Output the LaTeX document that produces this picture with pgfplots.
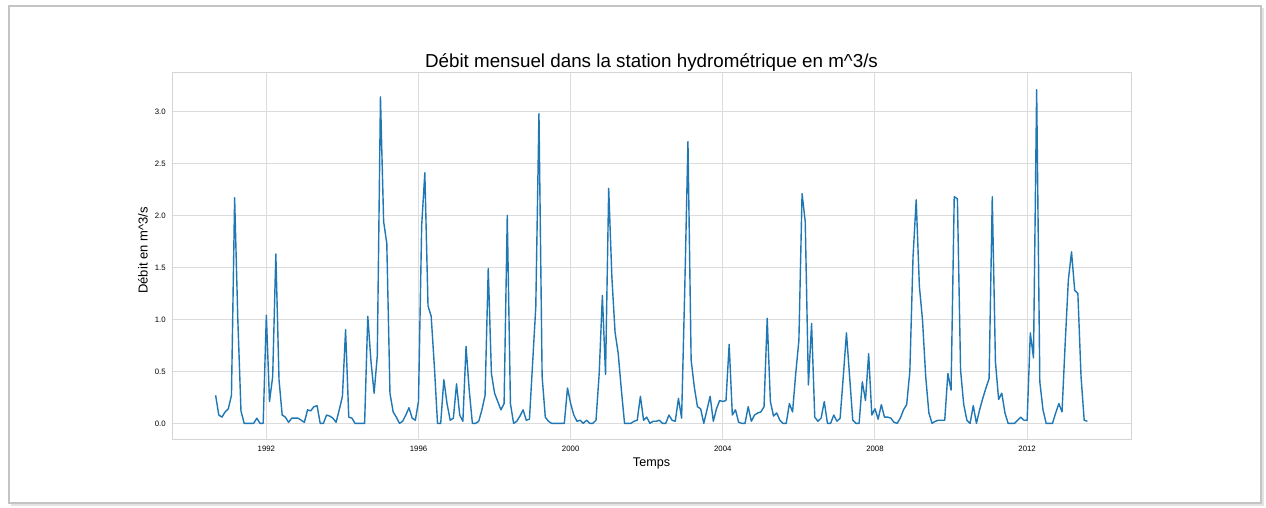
\documentclass[border=0pt]{standalone}
\usepackage{fontspec}
\setmainfont{Liberation Sans}
\usepackage{pgfplots}
\usepackage{pgfplotstable}
\pgfplotsset{compat=1.18}

\definecolor{flowblue}{HTML}{1F77B4}
\definecolor{gridgrey}{HTML}{DCDCDC}
\definecolor{spinegrey}{HTML}{D4D4D4}
\definecolor{framegrey}{HTML}{C4C4C4}

% Monthly discharge (m^3/s), September 1990 to August 2013
\pgfplotstableread{
flow
0.27
0.08
0.06
0.11
0.14
0.27
2.17
1.00
0.12
0.00
0.00
0.00
0.00
0.05
0.00
0.00
1.04
0.21
0.45
1.63
0.42
0.08
0.06
0.01
0.05
0.05
0.05
0.03
0.01
0.13
0.12
0.16
0.17
0.00
0.00
0.08
0.07
0.05
0.01
0.13
0.26
0.90
0.06
0.05
0.00
0.00
0.00
0.00
1.03
0.60
0.29
0.65
3.14
1.94
1.73
0.29
0.11
0.06
0.00
0.02
0.08
0.15
0.05
0.03
0.21
1.90
2.41
1.13
1.03
0.55
0.00
0.00
0.42
0.19
0.03
0.05
0.38
0.08
0.02
0.74
0.32
0.00
0.00
0.02
0.13
0.27
1.49
0.48
0.29
0.21
0.13
0.19
2.00
0.19
0.00
0.02
0.07
0.13
0.03
0.04
0.58
1.12
2.98
0.45
0.06
0.02
0.00
0.00
0.00
0.00
0.00
0.34
0.19
0.08
0.02
0.03
0.00
0.03
0.00
0.00
0.03
0.48
1.23
0.47
2.26
1.41
0.88
0.67
0.32
0.00
0.00
0.00
0.02
0.03
0.26
0.03
0.06
0.00
0.02
0.02
0.03
0.00
0.00
0.08
0.03
0.02
0.24
0.05
1.30
2.71
0.61
0.35
0.16
0.14
0.00
0.13
0.26
0.02
0.14
0.22
0.21
0.22
0.76
0.08
0.13
0.01
0.00
0.00
0.16
0.02
0.08
0.10
0.11
0.16
1.01
0.21
0.07
0.10
0.03
0.00
0.00
0.19
0.11
0.48
0.80
2.21
1.94
0.37
0.96
0.06
0.02
0.05
0.21
0.00
0.00
0.08
0.02
0.05
0.45
0.87
0.45
0.03
0.00
0.00
0.40
0.22
0.67
0.08
0.14
0.04
0.18
0.06
0.06
0.05
0.01
0.00
0.05
0.13
0.18
0.50
1.60
2.15
1.32
0.99
0.45
0.10
0.00
0.02
0.03
0.03
0.03
0.48
0.32
2.18
2.16
0.51
0.18
0.03
0.00
0.17
0.00
0.13
0.24
0.34
0.43
2.18
0.59
0.23
0.29
0.10
0.00
0.00
0.00
0.03
0.06
0.03
0.03
0.87
0.63
3.21
0.40
0.13
0.00
0.00
0.00
0.10
0.19
0.11
0.77
1.38
1.65
1.28
1.25
0.45
0.03
0.02
}\debit

\begin{document}
\begin{tikzpicture}
% page and framed panel
\path[use as bounding box, fill=white] (0,0) rectangle (633pt,254pt);
\fill[gray!22] (5.5pt,1.2pt) rectangle (632pt,250pt);
\filldraw[fill=white, draw=framegrey, line width=0.6pt] (4.5pt,2.5pt) rectangle (630.5pt,251pt);

\begin{axis}[
  at={(86pt,34pt)}, anchor=south west,
  width=479.5pt, height=183.5pt, scale only axis,
  xmin=1989.52, xmax=2014.73,
  ymin=-0.16, ymax=3.37,
  xtick={1992,1996,2000,2004,2008,2012},
  ytick={0,0.5,1,1.5,2,2.5,3},
  major tick length=0pt,
  grid=major,
  major grid style={draw=gridgrey, line width=0.5pt},
  axis line style={draw=spinegrey, line width=0.5pt},
  /pgf/number format/assume math mode=true,
  xticklabel style={font=\fontsize{3.9}{4.5}\selectfont, inner sep=0pt, anchor=north, yshift=-3pt,
    /pgf/number format/1000 sep={}},
  yticklabel style={font=\fontsize{3.9}{4.5}\selectfont, inner sep=0pt, anchor=east, xshift=-3pt,
    /pgf/number format/.cd, fixed, fixed zerofill, precision=1},
  title={Débit mensuel dans la station hydrométrique en m\textasciicircum 3/s},
  every axis title/.style={at={(axis description cs:0.5,1)}, anchor=base, yshift=2.5pt,
    font=\fontsize{9.4}{10.5}\selectfont, inner sep=0pt},
  xlabel={Temps},
  every axis x label/.style={at={([yshift=-11.5pt]axis description cs:0.5,0)}, anchor=center,
    font=\fontsize{6.3}{7.3}\selectfont, inner sep=0pt},
  ylabel={Débit en m\textasciicircum 3/s},
  every axis y label/.style={at={([xshift=-14.5pt,yshift=3pt]axis description cs:0,0.5)},
    anchor=center, rotate=90, font=\fontsize{6.5}{7.5}\selectfont, inner sep=0pt},
  clip=true,
]
\addplot[flowblue, line width=0.7pt, line join=round, no markers]
  table[x expr={1990+(8+\coordindex)/12}, y=flow] {\debit};
\end{axis}
\end{tikzpicture}
\end{document}
